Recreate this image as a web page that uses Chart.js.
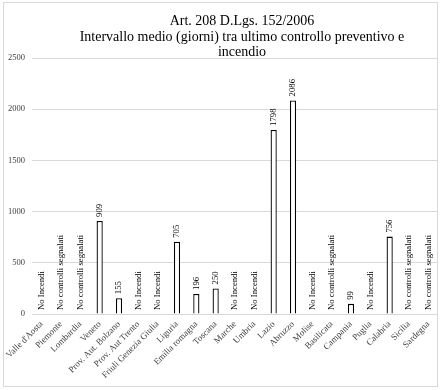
<!DOCTYPE html>
<html><head><meta charset="utf-8">
<script src="https://cdn.jsdelivr.net/npm/chart.js@4.4.1/dist/chart.umd.min.js"></script>
<style>html,body{margin:0;padding:0;background:#fff}#w{width:444px;height:390px;position:relative}</style>
</head><body><div id="w"><canvas id="c" width="444" height="390"></canvas></div>
<script>
const categories = ["Valle d'Aosta","Piemonte","Lombardia","Veneto","Prov. Aut. Bolzano","Prov. Aut Trento","Friuli Genezia Giulia","Liguria","Emilia romagna","Toscana","Marche","Umbria","Lazio","Abruzzo","Molise","Basilicata","Campania","Puglia","Calabria","Sicilia","Sardegna"];
const values = [null,null,null,909,155,null,null,705,196,250,null,null,1798,2086,null,null,99,null,756,null,null];
const notes = ["No Incendi","No controlli segnalati","No controlli segnalati","","","No Incendi","No Incendi","","","","No Incendi","No Incendi","","","No Incendi","No controlli segnalati","","No Incendi","","No controlli segnalati","No controlli segnalati"];
const titleLines = ["Art. 208 D.Lgs. 152/2006","Intervallo medio (giorni) tra ultimo controllo preventivo e","incendio"];
const yTicks = [0,500,1000,1500,2000,2500];

const SERIF = "'Liberation Serif', 'DejaVu Serif', serif";

const frame = {
  id:'frame',
  beforeDraw(chart){
    const ctx = chart.ctx;
    ctx.save();
    ctx.fillStyle = '#fff';
    ctx.fillRect(0,0,chart.width,chart.height);
    ctx.strokeStyle = '#d9d9d9';
    ctx.lineWidth = 1;
    ctx.strokeRect(3.5,2.5,434,384);
    ctx.restore();
  },
  afterDraw(chart){
    const ctx = chart.ctx;
    ctx.save();
    ctx.fillStyle = '#000';
    ctx.font = "14px " + SERIF;
    ctx.textAlign = 'center';
    ctx.textBaseline = 'middle';
    titleLines.forEach((t,i)=>ctx.fillText(t, 242, 21.5 + i*15.5));
    ctx.restore();
  }
};

const labelsPlugin = {
  id:'barLabels',
  afterDatasetsDraw(chart){
    const ctx = chart.ctx;
    const xs = chart.scales.x, ys = chart.scales.y;
    ctx.save();
    ctx.fillStyle = '#000';
    ctx.font = "8.7px " + SERIF;
    ctx.textAlign = 'left';
    ctx.textBaseline = 'middle';
    categories.forEach((c,i)=>{
      const v = values[i];
      const txt = v == null ? notes[i] : String(v);
      const x = xs.getPixelForValue(i);
      const y = ys.getPixelForValue(v == null ? 0 : v) - 4;
      ctx.save();
      ctx.translate(x, y);
      ctx.rotate(-Math.PI/2);
      ctx.fillText(txt, 0, 0);
      ctx.restore();
    });
    ctx.restore();
  }
};

new Chart(document.getElementById('c'), {
  type:'bar',
  data:{
    labels: categories,
    datasets:[{
      data: values,
      backgroundColor:'#ffffff',
      borderColor:'#000000',
      borderWidth:1.3,
      barPercentage:0.32,
      categoryPercentage:1.0
    }]
  },
  options:{
    responsive:false,
    animation:false,
    devicePixelRatio:1,
    layout:{padding:{left:0,right:6,top:58,bottom:0}},
    plugins:{legend:{display:false},tooltip:{enabled:false},title:{display:false}},
    scales:{
      x:{
        grid:{display:false},
        border:{display:false},
        ticks:{color:'#404040',font:{family:SERIF,size:9},maxRotation:45,minRotation:45,autoSkip:false,padding:-3},
        afterFit(s){ s.height = 76; }
      },
      y:{
        min:0,max:2500,
        afterBuildTicks(s){ s.ticks = yTicks.map(v=>({value:v})); },
        grid:{color:'#d9d9d9',drawTicks:false,lineWidth:1},
        border:{display:false},
        ticks:{color:'#404040',font:{family:SERIF,size:8.5},padding:7,callback:(v)=>String(v)},
        afterFit(s){ s.width = 32; }
      }
    }
  },
  plugins:[frame,labelsPlugin]
});
</script></body></html>
